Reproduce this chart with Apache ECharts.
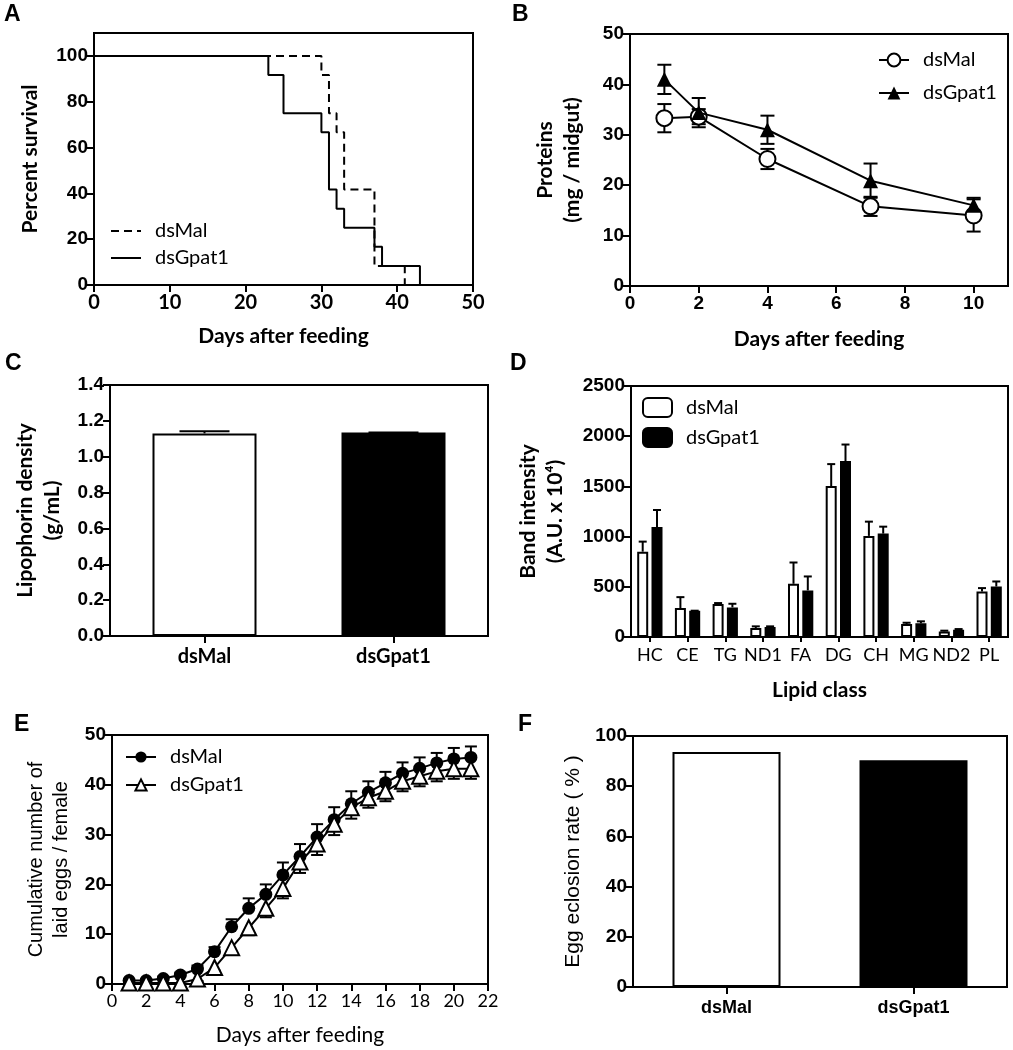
<!DOCTYPE html>
<html>
<head>
<meta charset="utf-8">
<script src="https://cdn.jsdelivr.net/npm/echarts@6/dist/echarts.min.js"></script>
<style>
  html, body { margin: 0; padding: 0; background: #fff; }
  #chart { width: 1013px; height: 1050px; }
</style>
</head>
<body>
<div id="chart"></div>
<script>
// ---- A: survival ----
const survMalDays = [0, 30, 31, 32, 33, 37, 41];
const survMalPct = [100, 91.7, 75, 66.7, 41.7, 8.3, 0];
const survGpatDays = [0, 23, 25, 30, 31, 32, 33, 37, 38, 43];
const survGpatPct = [100, 91.7, 75, 66.7, 41.7, 33.3, 25, 16.7, 8.3, 0];

// ---- B: proteins ----
const protDays = [1, 2, 4, 7, 10];
const protMal = [33.3, 33.6, 25.2, 15.8, 14.0];
const protMalErr = [2.8, 1.5, 2.0, 1.9, 3.2];
const protGpat = [41.0, 34.4, 31.0, 20.9, 16.0];
const protGpatErr = [2.9, 2.9, 2.8, 3.4, 1.5];

// ---- C: lipophorin density ----
const groups = ['dsMal', 'dsGpat1'];
const density = [1.13, 1.135];
const densityErr = [0.012, 0];

// ---- D: lipid classes ----
const lipidClasses = ['HC', 'CE', 'TG', 'ND1', 'FA', 'DG', 'CH', 'MG', 'ND2', 'PL'];
const lipidMal = [850, 288, 328, 89, 530, 1503, 1007, 129, 56, 454];
const lipidMalErr = [100, 109, 10, 17, 212, 219, 142, 13, 7, 33];
const lipidGpat = [1096, 262, 295, 99, 464, 1752, 1030, 136, 73, 503];
const lipidGpatErr = [169, 0, 36, 7, 139, 165, 69, 20, 6, 50];

// ---- E: cumulative eggs ----
const eggDays = [1, 2, 3, 4, 5, 6, 7, 8, 9, 10, 11, 12, 13, 14, 15, 16, 17, 18, 19, 20, 21];
const eggMal = [0.7, 0.7, 1.1, 1.8, 3.0, 6.5, 11.5, 15.2, 18.0, 21.9, 25.6, 29.5, 33.0, 36.2, 38.5, 40.4, 42.3, 43.3, 44.4, 45.2, 45.5];
const eggMalErr = [0.3, 0.3, 0.4, 0.5, 0.7, 0.9, 1.5, 2.0, 2.0, 2.5, 2.5, 2.6, 2.5, 2.5, 2.2, 2.2, 2.2, 2.2, 2.0, 2.2, 2.2];
const eggGpat = [0.2, 0.2, 0.2, 0.2, 1.0, 3.3, 7.3, 11.3, 15.2, 19.2, 24.5, 28.1, 32.1, 35.4, 37.4, 38.7, 40.7, 41.7, 42.7, 43.2, 43.2];
const eggGpatErr = [0.2, 0.2, 0.2, 0.2, 0.4, 0.6, 1.0, 1.5, 1.8, 2.0, 2.2, 2.2, 2.2, 2.2, 2.0, 2.0, 2.0, 2.0, 2.0, 2.0, 2.0];

// ---- F: eclosion ----
const eclosion = [93.6, 90.3];

const AR = 'Liberation Sans', CB = 'Lato';
const BLACK = '#000';

const line2 = { color: BLACK, width: 2 };
const tickLab = { color: BLACK, fontFamily: AR, fontWeight: 'bold', fontSize: 19, margin: 6 };
const titleTxt = { color: BLACK, fontFamily: CB, fontWeight: 'bold', fontSize: 21, lineHeight: 27 };

function axis(gi, type, extra) {
  const a = {
    type: type,
    gridIndex: gi,
    axisLine: { show: true, onZero: false, lineStyle: line2 },
    axisTick: { show: true, length: 7, lineStyle: line2 },
    axisLabel: Object.assign({}, tickLab),
    splitLine: { show: false },
    nameLocation: 'middle',
    nameTextStyle: Object.assign({}, titleTxt)
  };
  for (const k in extra) {
    if (a[k] && typeof a[k] === 'object' && !Array.isArray(a[k])) a[k] = Object.assign({}, a[k], extra[k]);
    else a[k] = extra[k];
  }
  return a;
}

// error bar renderer: value [x, low, high]
function errBar(offset, halfCap, capLow) {
  return function (params, api) {
    const x = api.value(0);
    const hi = api.coord([x, api.value(2)]);
    const lo = api.coord([x, api.value(1)]);
    const cx = hi[0] + offset;
    const st = { stroke: BLACK, lineWidth: 2 };
    const kids = [
      { type: 'line', shape: { x1: cx, y1: hi[1], x2: cx, y2: lo[1] }, style: st }
    ];
    if (capLow !== 'lowOnly') kids.push({ type: 'line', shape: { x1: cx - halfCap, y1: hi[1], x2: cx + halfCap, y2: hi[1] }, style: st });
    if (capLow) kids.push({ type: 'line', shape: { x1: cx - halfCap, y1: lo[1], x2: cx + halfCap, y2: lo[1] }, style: st });
    return { type: 'group', children: kids };
  };
}

const pairs = (xs, ys) => xs.map((x, i) => [x, ys[i]]);
const errs = (xs, ys, es, up, down) => xs.map((x, i) => [x, ys[i] - (down ? es[i] : 0), ys[i] + (up ? es[i] : 0)]);
const idx = (arr) => arr.map((_, i) => i);

const grids = [
  { left: 94, top: 33, width: 379, height: 252 },   // A
  { left: 630, top: 34, width: 378, height: 252 },  // B
  { left: 110, top: 385, width: 378, height: 251 }, // C
  { left: 631, top: 386, width: 377, height: 251 }, // D
  { left: 112, top: 735, width: 376, height: 252 }, // E
  { left: 633, top: 736, width: 374, height: 251 }  // F
].map(g => Object.assign({ show: true, borderColor: BLACK, borderWidth: 2, backgroundColor: 'transparent' }, g));

const xAxes = [
  axis(0, 'value', { min: 0, max: 50, interval: 10, name: 'Days after feeding', nameGap: 38,
    axisLabel: { fontFamily: CB, fontSize: 20, margin: 8 } }),
  axis(1, 'value', { min: 0, max: 11, interval: 2, name: 'Days after feeding', nameGap: 40,
    axisTick: { customValues: [0, 2, 4, 6, 8, 10] },
    axisLabel: { customValues: [0, 2, 4, 6, 8, 10], margin: 8 } }),
  axis(2, 'category', { data: groups, axisTick: { alignWithLabel: true },
    axisLabel: { fontFamily: CB, fontSize: 20, margin: 11 } }),
  axis(3, 'category', { data: lipidClasses, name: 'Lipid class', nameGap: 40,
    axisTick: { alignWithLabel: true, length: 5 },
    axisLabel: { fontFamily: CB, fontWeight: 'normal', fontSize: 18, margin: 9, interval: 0 } }),
  axis(4, 'value', { min: 0, max: 22, interval: 2, name: 'Days after feeding', nameGap: 38,
    axisLabel: { fontFamily: CB, fontWeight: 'normal', fontSize: 18, margin: 8 },
    nameTextStyle: { fontWeight: 'normal' } }),
  axis(5, 'category', { data: groups, axisTick: { alignWithLabel: true },
    axisLabel: { fontSize: 18, margin: 12 } })
];

const yAxes = [
  axis(0, 'value', { min: 0, max: 110, interval: 20, name: 'Percent survival', nameGap: 50,
    axisTick: { customValues: [0, 20, 40, 60, 80, 100] },
    axisLabel: { customValues: [0, 20, 40, 60, 80, 100] } }),
  axis(1, 'value', { min: 0, max: 50, interval: 10, name: 'Proteins\n(mg / midgut)', nameGap: 44 }),
  axis(2, 'value', { min: 0, max: 1.4, interval: 0.2, name: 'Lipophorin density\n(g/mL)', nameGap: 44,
    axisLabel: { formatter: v => v.toFixed(1) } }),
  axis(3, 'value', { min: 0, max: 2500, interval: 500, name: 'Band intensity\n(A.U. x 10\u2074)', nameGap: 62,
    axisLabel: { formatter: v => String(v) } }),
  axis(4, 'value', { min: 0, max: 50, interval: 10, name: 'Cumulative number of\nlaid eggs / female', nameGap: 38,
    nameTextStyle: { fontFamily: AR, fontWeight: 'normal', fontSize: 20, lineHeight: 25 } }),
  axis(5, 'value', { min: 0, max: 100, interval: 20, name: 'Egg eclosion rate ( % )', nameGap: 46,
    nameTextStyle: { fontFamily: AR, fontWeight: 'normal', fontSize: 21 } })
];

const legendText = { color: BLACK, fontFamily: CB, fontSize: 20, padding: [0, 0, 0, 9] };
const stripName = n => n.split('_')[1];

const series = [
  // A
  { name: 'A_dsMal', type: 'line', xAxisIndex: 0, yAxisIndex: 0, step: 'end', symbol: 'none',
    data: pairs(survMalDays, survMalPct), lineStyle: { color: BLACK, width: 2, type: [8, 5] }, itemStyle: { color: BLACK } },
  { name: 'A_dsGpat1', type: 'line', xAxisIndex: 0, yAxisIndex: 0, step: 'end', symbol: 'none',
    data: pairs(survGpatDays, survGpatPct), lineStyle: { color: BLACK, width: 2 }, itemStyle: { color: BLACK } },
  // B
  { type: 'custom', xAxisIndex: 1, yAxisIndex: 1, renderItem: errBar(0, 7, true), data: errs(protDays, protMal, protMalErr, true, true), z: 1 },
  { type: 'custom', xAxisIndex: 1, yAxisIndex: 1, renderItem: errBar(0, 7, true), data: errs(protDays, protGpat, protGpatErr, true, true), z: 1 },
  { name: 'B_dsMal', type: 'line', xAxisIndex: 1, yAxisIndex: 1, data: pairs(protDays, protMal),
    symbol: 'circle', symbolSize: 16, lineStyle: { color: BLACK, width: 2 },
    itemStyle: { color: '#fff', borderColor: BLACK, borderWidth: 2 }, z: 3 },
  { name: 'B_dsGpat1', type: 'line', xAxisIndex: 1, yAxisIndex: 1, data: pairs(protDays, protGpat),
    symbol: 'triangle', symbolSize: 15, lineStyle: { color: BLACK, width: 2 },
    itemStyle: { color: BLACK }, z: 4 },
  // C
  { type: 'bar', xAxisIndex: 2, yAxisIndex: 2, barWidth: 104,
    data: density.map((v, i) => ({ value: v, itemStyle: { color: i === 0 ? '#fff' : BLACK } })),
    itemStyle: { borderColor: BLACK, borderWidth: 2 } },
  { type: 'custom', xAxisIndex: 2, yAxisIndex: 2, renderItem: errBar(0, 25, false),
    data: errs(idx(groups), density, densityErr, true, false), z: 5 },
  // D
  { name: 'D_dsMal', type: 'bar', xAxisIndex: 3, yAxisIndex: 3, barWidth: 11, barGap: '30%', data: lipidMal,
    itemStyle: { color: '#fff', borderColor: BLACK, borderWidth: 2 } },
  { name: 'D_dsGpat1', type: 'bar', xAxisIndex: 3, yAxisIndex: 3, barWidth: 11, barGap: '30%', data: lipidGpat,
    itemStyle: { color: BLACK, borderColor: BLACK, borderWidth: 2 } },
  { type: 'custom', xAxisIndex: 3, yAxisIndex: 3, renderItem: errBar(-7.15, 4, false),
    data: errs(idx(lipidClasses), lipidMal, lipidMalErr, true, false), z: 5 },
  { type: 'custom', xAxisIndex: 3, yAxisIndex: 3, renderItem: errBar(7.15, 4, false),
    data: errs(idx(lipidClasses), lipidGpat, lipidGpatErr, true, false), z: 5 },
  // E
  { type: 'custom', xAxisIndex: 4, yAxisIndex: 4, renderItem: errBar(0, 6, false), data: errs(eggDays, eggMal, eggMalErr, true, false), z: 1 },
  { type: 'custom', xAxisIndex: 4, yAxisIndex: 4, renderItem: errBar(0, 6, 'lowOnly'), data: errs(eggDays, eggGpat, eggGpatErr, false, true), z: 1 },
  { name: 'E_dsMal', type: 'line', xAxisIndex: 4, yAxisIndex: 4, data: pairs(eggDays, eggMal),
    symbol: 'circle', symbolSize: 13, lineStyle: { color: BLACK, width: 2 }, itemStyle: { color: BLACK }, z: 3 },
  { name: 'E_dsGpat1', type: 'line', xAxisIndex: 4, yAxisIndex: 4, data: pairs(eggDays, eggGpat),
    symbol: 'triangle', symbolSize: 15, lineStyle: { color: BLACK, width: 2 },
    itemStyle: { color: '#fff', borderColor: BLACK, borderWidth: 2 }, z: 4 },
  // F
  { type: 'bar', xAxisIndex: 5, yAxisIndex: 5, barWidth: 108,
    data: eclosion.map((v, i) => ({ value: v, itemStyle: { color: i === 0 ? '#fff' : BLACK } })),
    itemStyle: { borderColor: BLACK, borderWidth: 2 } }
];

function legend(names, left, top, w, h, gap, extra) {
  return Object.assign({ data: names, left: left, top: top, orient: 'vertical', padding: 0,
    itemWidth: w, itemHeight: h, itemGap: gap,
    formatter: stripName, textStyle: legendText, selectedMode: false }, extra || {});
}

const panelLetters = [['A', 4, 15], ['B', 512, 15], ['C', 5, 364], ['D', 510, 364], ['E', 14, 725], ['F', 518, 725]];

const option = {
  backgroundColor: '#fff',
  animation: false,
  grid: grids,
  xAxis: xAxes,
  yAxis: yAxes,
  legend: [
    legend(['A_dsMal', 'A_dsGpat1'], 110, 221, 30, 14, 7, { itemStyle: { opacity: 0 } }),
    legend(['B_dsMal', 'B_dsGpat1'], 878, 50, 30, 16, 13),
    legend(['D_dsMal', 'D_dsGpat1'], 642, 397, 29, 19, 9),
    legend(['E_dsMal', 'E_dsGpat1'], 125, 747, 30, 14, 8)
  ],
  graphic: panelLetters.map(p => ({
    type: 'text', left: p[1], top: p[2] - 12,
    style: { text: p[0], fill: BLACK, font: 'bold 23px "Liberation Sans"' }
  })),
  series: series
};

const myChart = echarts.init(document.getElementById('chart'));
myChart.setOption(option);
</script>
</body>
</html>
